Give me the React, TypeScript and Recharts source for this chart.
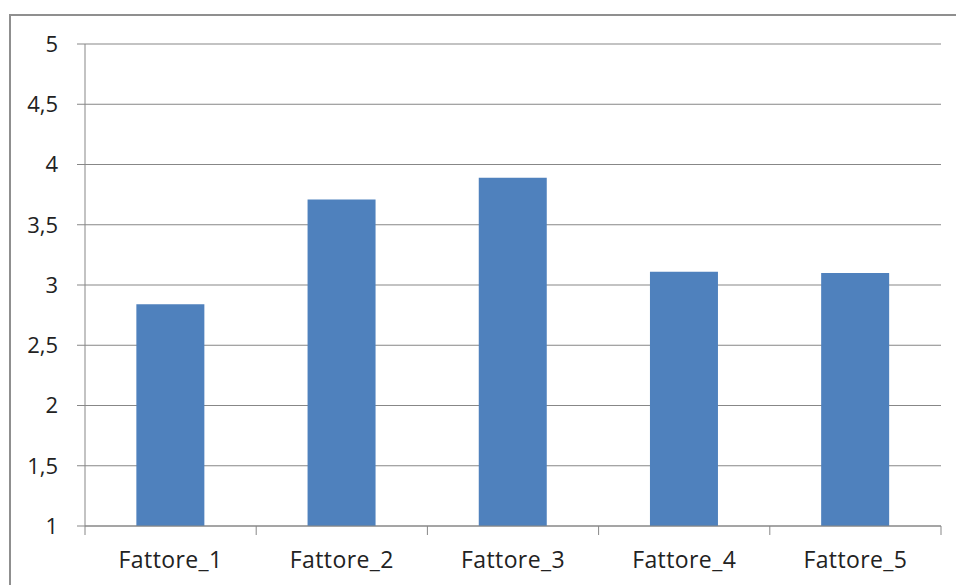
import React from 'react';
import { BarChart, Bar, XAxis, YAxis, CartesianGrid } from 'recharts';

const categories = ['Fattore_1', 'Fattore_2', 'Fattore_3', 'Fattore_4', 'Fattore_5'];
const values = [2.84, 3.71, 3.89, 3.11, 3.1];
const yTicks = [1, 1.5, 2, 2.5, 3, 3.5, 4, 4.5, 5];

const data = categories.map((name, i) => ({ name, value: values[i] }));

const FONT = '"Open Sans", sans-serif';
const GRID = '#878787';

// x ticks: label at the centre, tick mark on the category boundaries
const CategoryTick = (props: any) => {
  const { x, y, payload, index, width } = props;
  const band = width / categories.length;
  const isLast = index === categories.length - 1;
  return (
    <g>
      <line x1={x - band / 2} y1={y - 8} x2={x - band / 2} y2={y + 1} stroke={GRID} strokeWidth={1} />
      {isLast && <line x1={x + band / 2} y1={y - 8} x2={x + band / 2} y2={y + 1} stroke={GRID} strokeWidth={1} />}
      <text x={x} y={y + 34} textAnchor="middle" fill="#222" fontSize={23} letterSpacing={0.4} fontFamily={FONT}>
        {payload.value}
      </text>
    </g>
  );
};

export default function App() {
  return (
    <div style={{ position: 'absolute', left: 0, top: 0, width: 956, height: 585, overflow: 'hidden', background: '#fff' }}>
      {/* outer chart frame, running off the right and bottom edges */}
      <div
        style={{
          position: 'absolute',
          left: 9,
          top: 14,
          width: 980,
          height: 620,
          border: '2px solid #8f8f8f',
          boxSizing: 'border-box',
        }}
      />
      <div style={{ position: 'absolute', left: 0, top: 0 }}>
        <BarChart
          width={956}
          height={585}
          data={data}
          margin={{ top: 44, right: 15, bottom: 0, left: 0 }}
          barCategoryGap="30%"
        >
          <CartesianGrid vertical={false} stroke={GRID} strokeWidth={1} />
          <XAxis
            dataKey="name"
            height={59}
            axisLine={{ stroke: GRID }}
            tickLine={false}
            interval={0}
            tick={<CategoryTick />}
          />
          <YAxis
            width={85}
            domain={[1, 5]}
            ticks={yTicks}
            interval={0}
            axisLine={{ stroke: GRID }}
            tickLine={{ stroke: GRID }}
            tickSize={8}
            tickMargin={19}
            tickFormatter={(v: number) => String(v).replace('.', ',')}
            tick={{ fill: '#222', fontSize: 22, fontFamily: FONT }}
          />
          <Bar dataKey="value" fill="#4f81bd" isAnimationActive={false} />
        </BarChart>
      </div>
    </div>
  );
}
